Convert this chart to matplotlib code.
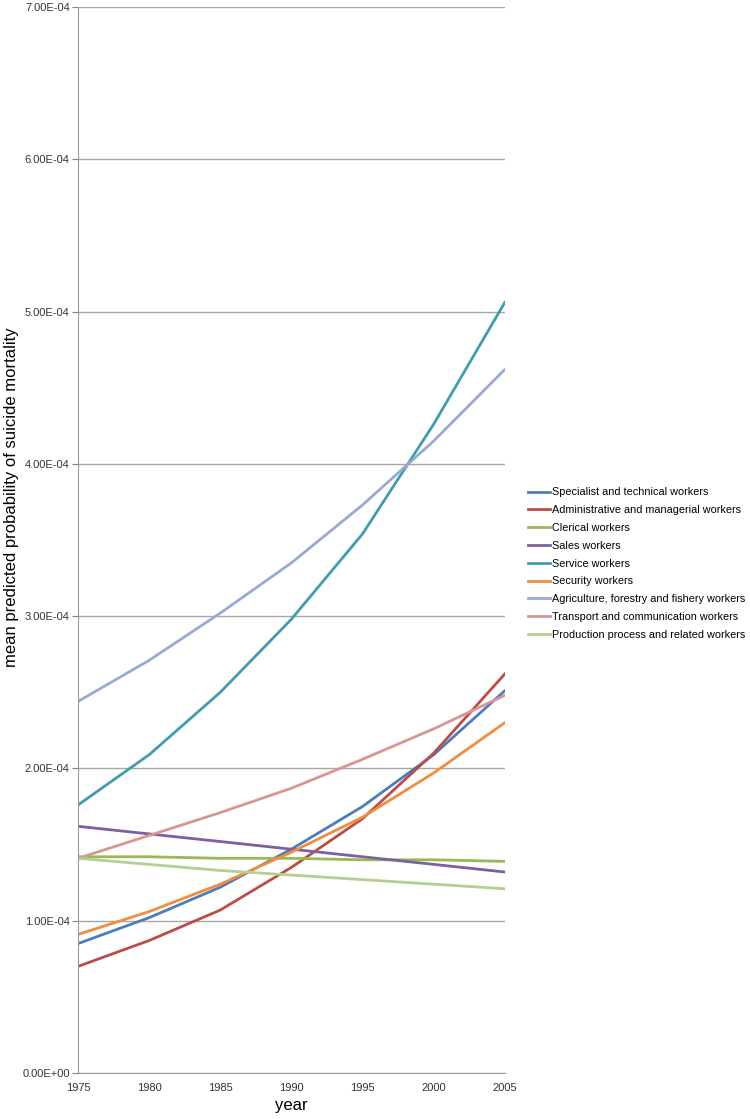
import matplotlib.pyplot as plt
import numpy as np

plt.rcParams['font.family'] = ['Liberation Sans', 'DejaVu Sans']

years = [1975, 1980, 1985, 1990, 1995, 2000, 2005]

specialist = [0.85, 1.02, 1.22, 1.47, 1.75, 2.09, 2.51]
administrative = [0.70, 0.87, 1.07, 1.35, 1.67, 2.10, 2.62]
clerical = [1.42, 1.42, 1.41, 1.41, 1.40, 1.40, 1.39]
sales = [1.62, 1.57, 1.52, 1.47, 1.42, 1.37, 1.32]
service = [1.76, 2.09, 2.50, 2.98, 3.54, 4.26, 5.06]
security = [0.91, 1.06, 1.24, 1.45, 1.68, 1.97, 2.30]
agriculture = [2.44, 2.71, 3.02, 3.35, 3.73, 4.15, 4.62]
transport = [1.41, 1.56, 1.71, 1.87, 2.06, 2.26, 2.48]
production = [1.41, 1.37, 1.33, 1.30, 1.27, 1.24, 1.21]

labels = ["Specialist and technical workers",
          "Administrative and managerial workers",
          "Clerical workers",
          "Sales workers",
          "Service workers",
          "Security workers",
          "Agriculture, forestry and fishery workers",
          "Transport and communication workers",
          "Production process and related workers"]
series = [specialist, administrative, clerical, sales, service,
          security, agriculture, transport, production]
colors = ["#4A7EBB", "#BE4B48", "#98B954", "#7D60A0", "#409CB0",
          "#F08D3E", "#98AAD2", "#D99593", "#B4CE93"]

fig = plt.figure(figsize=(7.5, 11.19), dpi=100)
ax = fig.add_axes([0.104, 0.0411, 0.569, 0.9526])

for vals, lab, col in zip(series, labels, colors):
    ax.plot(years, np.array(vals) * 1e-4, color=col, lw=2, label=lab)

ax.set_xlim(1975, 2005)
ax.set_ylim(0, 7e-4)
ax.set_xticks(years)
yt = np.arange(0, 8) * 1e-4
ax.set_yticks(yt)
ax.set_yticklabels(["{:.2E}".format(v) for v in yt])
ax.tick_params(axis='y', length=4, color="#888888", labelsize=8, labelcolor="#333333", pad=2)
ax.tick_params(axis='x', length=0, labelsize=8, labelcolor="#333333", pad=7)
ax.grid(axis='y', color="#A6A6A6", lw=1)
ax.set_axisbelow(True)
for s in ["top", "right"]:
    ax.spines[s].set_visible(False)
for s in ["left", "bottom"]:
    ax.spines[s].set_color("#9A9A9A")

ax.set_xlabel("year", fontsize=12, labelpad=4)
ax.set_ylabel("mean predicted probability of suicide mortality", fontsize=12)
ax.yaxis.set_label_coords(-0.138, 0.54)

fig.legend(loc='upper left', bbox_to_anchor=(0.698, 1 - 483 / 1119), frameon=False,
           fontsize=7.8, handlelength=2.0, handletextpad=0.2, labelspacing=0.72,
           borderaxespad=0)

fig.savefig("out.png", dpi=100)
